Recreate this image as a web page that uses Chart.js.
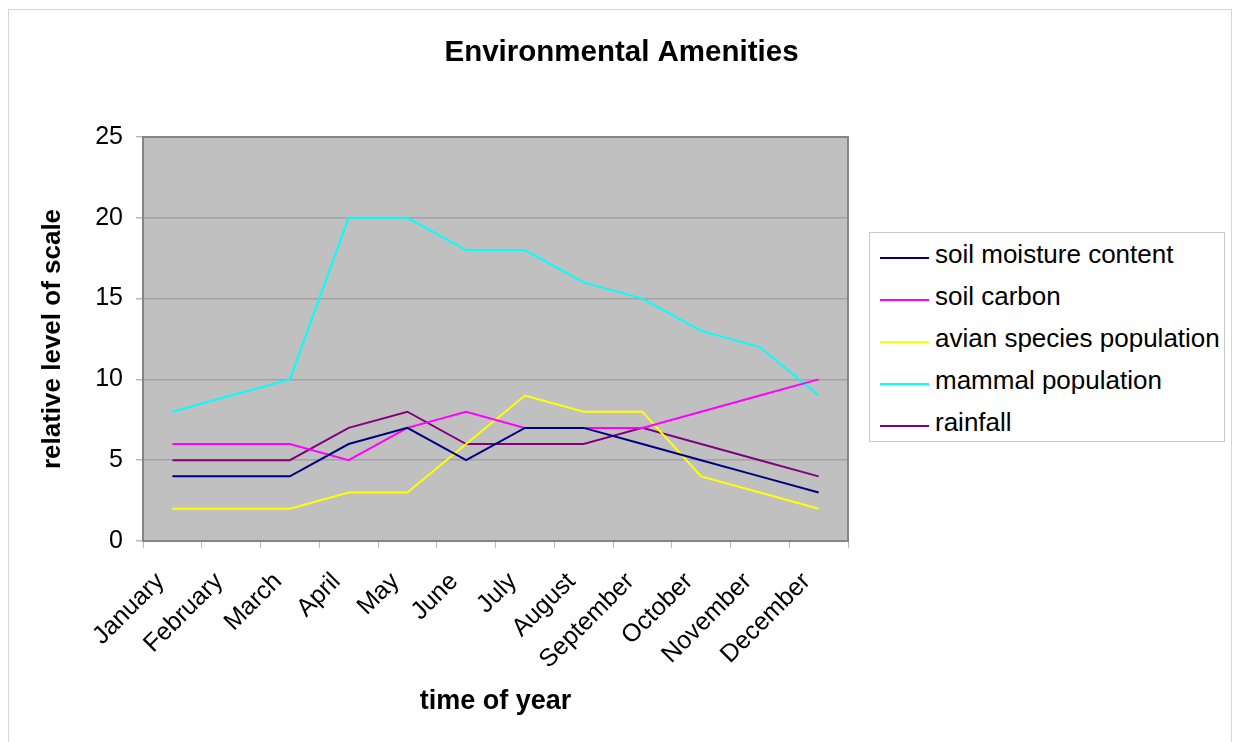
<!DOCTYPE html>
<html>
<head>
<meta charset="utf-8">
<script src="https://cdn.jsdelivr.net/npm/chart.js@4"></script>
<style>
  html, body { margin: 0; padding: 0; background: #fff; }
  body { width: 1235px; height: 742px; position: relative; overflow: hidden; font-family: "Liberation Sans", Arial, sans-serif; }
  #frame { position: absolute; left: 8px; top: 9px; width: 1224px; height: 760px; border: 1px solid #d6d6d6; box-sizing: border-box; }
  #chart { position: absolute; left: 0; top: 0; }
  #legend { position: absolute; left: 869px; top: 232px; width: 356px; height: 210px; border: 1px solid #c8c8c8; box-sizing: border-box; background: #fff; padding-top: 0px; }
  .row { height: 42px; display: flex; align-items: center; white-space: nowrap; }
  .swatch { width: 49px; height: 2px; margin-left: 10px; margin-right: 6px; margin-top: 8px; }
  .row span.t { font-size: 26px; color: #000; }
</style>
</head>
<body>
<div id="frame"></div>
<canvas id="chart" width="1235" height="742"></canvas>
<div id="legend"></div>
<script>
const months = ["January", "February", "March", "April", "May", "June", "July", "August", "September", "October", "November", "December"];
const soilMoisture = [4, 4, 4, 6, 7, 5, 7, 7, 6, 5, 4, 3];
const soilCarbon = [6, 6, 6, 5, 7, 8, 7, 7, 7, 8, 9, 10];
const avianSpecies = [2, 2, 2, 3, 3, 6, 9, 8, 8, 4, 3, 2];
const mammals = [8, 9, 10, 20, 20, 18, 18, 16, 15, 13, 12, 9];
const rainfall = [5, 5, 5, 7, 8, 6, 6, 6, 7, 6, 5, 4];

const series = [
  { label: "soil moisture content", data: soilMoisture, color: "#000080" },
  { label: "soil carbon", data: soilCarbon, color: "#ff00ff" },
  { label: "avian species population", data: avianSpecies, color: "#ffff00" },
  { label: "mammal population", data: mammals, color: "#00ffff" },
  { label: "rainfall", data: rainfall, color: "#800080" }
];

const font = "'Liberation Sans', Arial, sans-serif";

// grey plot area plus its frame
const plotBox = {
  id: 'plotBox',
  beforeDraw(chart) {
    const a = chart.chartArea, ctx = chart.ctx;
    ctx.save();
    ctx.fillStyle = '#c0c0c0';
    ctx.fillRect(a.left, a.top, a.right - a.left, a.bottom - a.top);
    ctx.restore();
  },
  beforeDatasetsDraw(chart) {
    const a = chart.chartArea, ctx = chart.ctx;
    ctx.save();
    ctx.strokeStyle = '#858585';
    ctx.lineWidth = 2;
    ctx.strokeRect(a.left, a.top, a.right - a.left, a.bottom - a.top);
    ctx.restore();
  }
};

new Chart(document.getElementById('chart'), {
  type: 'line',
  data: {
    labels: months,
    datasets: series.map(s => ({
      label: s.label,
      data: s.data,
      borderColor: s.color,
      backgroundColor: s.color,
      borderWidth: 2,
      pointRadius: 0,
      tension: 0
    }))
  },
  options: {
    responsive: false,
    animation: false,
    layout: { padding: { left: 37, right: 29, top: 0, bottom: 24 } },
    plugins: {
      legend: { display: false },
      tooltip: { enabled: false },
      title: {
        display: true,
        text: 'Environmental Amenities',
        color: '#000',
        font: { family: font, size: 29.5, weight: 'bold' },
        padding: { top: 35, bottom: 66.6 }
      }
    },
    scales: {
      x: {
        offset: true,
        grid: { display: true, drawOnChartArea: false, drawTicks: true, tickLength: 7, tickColor: '#b8b8b8', offset: true },
        border: { display: false },
        ticks: { color: '#000', font: { family: font, size: 25 }, minRotation: 45, maxRotation: 45, padding: 19, labelOffset: -12, autoSkip: false },
        title: { display: true, text: 'time of year', color: '#000', font: { family: font, size: 27, weight: 'bold' }, padding: 0 },
        afterFit(s) { s.height = 177; }
      },
      y: {
        min: 0,
        max: 25,
        ticks: { stepSize: 5, color: '#000', font: { family: font, size: 25 }, padding: 13 },
        grid: { color: '#a2a2a2', lineWidth: 1.5, tickLength: 7, tickColor: '#b8b8b8' },
        border: { display: false },
        title: { display: true, text: 'relative level of scale', color: '#000', font: { family: font, size: 26, weight: 'bold' }, padding: 0 },
        afterFit(s) { s.width = 106; }
      },
      side: {
        type: 'linear',
        position: 'right',
        display: true,
        grid: { display: false },
        border: { display: false },
        ticks: { display: false },
        afterFit(s) { s.width = 358; }
      }
    }
  },
  plugins: [plotBox]
});

document.getElementById('legend').innerHTML = series.map(s => `
  <div class="row"><div class="swatch" style="background:${s.color}"></div><span class="t">${s.label}</span></div>
`).join('');
</script>
</body>
</html>
